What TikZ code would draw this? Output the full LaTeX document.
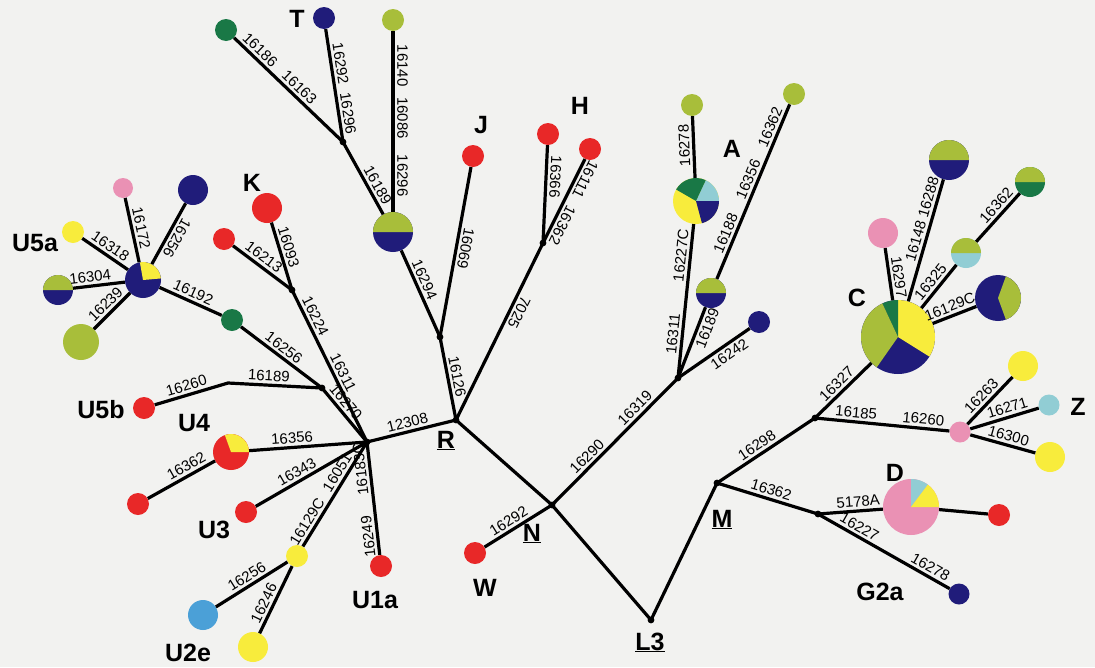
\documentclass[tikz,border=0pt]{standalone}
\usepackage{fontspec}
\setmainfont{Liberation Sans}
\definecolor{cRed}{RGB}{232,40,40}
\definecolor{cNavy}{RGB}{32,28,122}
\definecolor{cYG}{RGB}{168,190,58}
\definecolor{cDG}{RGB}{25,120,70}
\definecolor{cYel}{RGB}{248,236,60}
\definecolor{cPink}{RGB}{234,145,180}
\definecolor{cLB}{RGB}{145,205,212}
\definecolor{cBlue}{RGB}{75,160,215}
\definecolor{bg}{RGB}{242,242,240}
\newcommand{\labfont}{\fontsize{15}{15}\selectfont}
\newcommand{\grpfont}{\fontsize{25}{25}\selectfont\bfseries}
\newcommand{\pieW}[5]{\fill[#5] (#1.center) -- ++({-(#3)}:#2) arc[start angle={-(#3)}, end angle={-(#4)}, radius=#2] -- cycle;}
\tikzset{
  hap/.style={circle, inner sep=0pt, minimum size=#1},
  br/.style={line width=3.2pt, black, line join=round},
  lab/.style={font=\labfont, sloped, allow upside down, inner sep=2.5pt, above},
  labb/.style={font=\labfont, sloped, allow upside down, inner sep=2.5pt, below},
  grp/.style={font=\grpfont, inner sep=0pt, anchor=base},
}
\begin{document}
\begin{tikzpicture}[x=1pt,y=-1pt]
\fill[bg] (0,0) rectangle (1095,667);
\useasboundingbox (0,0) rectangle (1095,667);

% junction coordinates
\coordinate (uh) at (367,442);
\coordinate (kj) at (292,290);
\coordinate (u5j) at (322,388);
\coordinate (b5) at (228,383);
\coordinate (tj) at (343,142);
\coordinate (jj) at (440,337);
\coordinate (hj) at (543,243);
\coordinate (R) at (456,420);
\coordinate (N) at (552,505);
\coordinate (L3) at (651,620);
\coordinate (M) at (717,483);
\coordinate (aj) at (678,378);
\coordinate (cj) at (815,418);
\coordinate (dj) at (818,514);

% U5a cluster
\node[hap=20pt, fill=cPink] (u5pk) at (123,188) {};
\node[hap=30pt, fill=cNavy] (u5nv) at (193,190) {};
\node[hap=22pt, fill=cYel] (u5ye) at (73,232) {};
\node[hap=30pt, fill=cNavy] (u5hf) at (58,290) {};
\node[hap=36pt, fill=cYG] (u5yg) at (81,342) {};
\node[hap=36pt, fill=cNavy] (u5a) at (143,280) {};
\node[hap=22pt, fill=cDG] (u5dg) at (232,320) {};
\node[hap=22pt, fill=cRed] (u5b) at (144,408) {};
% K
\node[hap=30pt, fill=cRed] (k1) at (267,208) {};
\node[hap=22pt, fill=cRed] (k2) at (224,239) {};
% U
\node[hap=36pt, fill=cRed] (u4) at (231,452) {};
\node[hap=22pt, fill=cRed] (u4r) at (138,504) {};
\node[hap=22pt, fill=cRed] (u3) at (246,512) {};
\node[hap=22pt, fill=cYel] (u2) at (297,556) {};
\node[hap=30pt, fill=cBlue] (u2e) at (203,615) {};
\node[hap=30pt, fill=cYel] (u2y) at (253,647) {};
\node[hap=22pt, fill=cRed] (u1) at (381,566) {};
% T, J, H
\node[hap=22pt, fill=cDG] (t1) at (226,30) {};
\node[hap=22pt, fill=cNavy] (t2) at (324,18) {};
\node[hap=22pt, fill=cYG] (t3) at (393,20) {};
\node[hap=40pt, fill=cNavy] (tb) at (393,232) {};
\node[hap=22pt, fill=cRed] (jr) at (473,156) {};
\node[hap=22pt, fill=cRed] (h1) at (548,134) {};
\node[hap=22pt, fill=cRed] (h2) at (590,149) {};
\node[hap=22pt, fill=cRed] (w) at (475,553) {};
% A
\node[hap=46pt, fill=cYel] (a) at (696,201) {};
\node[hap=22pt, fill=cYG] (at) at (692,105) {};
\node[hap=30pt, fill=cNavy] (ah) at (711,293) {};
\node[hap=22pt, fill=cYG] (ay) at (794,94) {};
\node[hap=22pt, fill=cNavy] (an) at (759,322) {};
% C
\node[hap=74pt, fill=cNavy] (c) at (898,337) {};
\node[hap=30pt, fill=cPink] (cp) at (883,233) {};
\node[hap=40pt, fill=cNavy] (ch) at (949,160) {};
\node[hap=30pt, fill=cLB] (cs) at (966,253) {};
\node[hap=30pt, fill=cDG] (cg) at (1030,182) {};
\node[hap=46pt, fill=cNavy] (cn) at (998,298) {};
% Z
\node[hap=21pt, fill=cPink] (zp) at (960,432) {};
\node[hap=30pt, fill=cYel] (zy1) at (1023,366) {};
\node[hap=21pt, fill=cLB] (zl) at (1049,405) {};
\node[hap=30pt, fill=cYel] (zy2) at (1050,457) {};
% D
\node[hap=56pt, fill=cPink] (d) at (911,507) {};
\node[hap=22pt, fill=cRed] (dr) at (999,515) {};
\node[hap=21pt, fill=cNavy] (g2) at (959,594) {};

% pie wedges
\pieW{u5a}{18}{5}{100}{cYel}
\pieW{u5hf}{15}{0}{180}{cYG}
\pieW{u4}{18}{0}{110}{cYel}
\pieW{tb}{20}{0}{180}{cYG}
\pieW{a}{23}{0}{65}{cLB}
\pieW{a}{23}{65}{150}{cDG}
\pieW{a}{23}{285}{360}{cNavy}
\pieW{ah}{15}{0}{180}{cYG}
\pieW{c}{37}{-32}{90}{cYel}
\pieW{c}{37}{90}{115}{cDG}
\pieW{c}{37}{115}{235}{cYG}
\pieW{ch}{20}{0}{180}{cYG}
\pieW{cs}{15}{0}{180}{cYG}
\pieW{cg}{15}{0}{180}{cYG}
\pieW{cn}{23}{-70}{70}{cYG}
\pieW{d}{28}{53}{90}{cLB}
\pieW{d}{28}{0}{53}{cYel}

% U5a edges
\draw[br] (u5pk) -- node[lab]{16172} (u5a);
\draw[br] (u5nv) -- node[lab]{16256} (u5a);
\draw[br] (u5ye) -- node[lab]{16318} (u5a);
\draw[br] (u5hf) -- node[lab,pos=.35]{16304} (u5a);
\draw[br] (u5yg) -- node[lab]{16239} (u5a);
\draw[br] (u5a) -- node[lab,pos=.48]{16192} (u5dg);
\draw[br] (u5dg) -- node[lab,pos=.46]{16256} (u5j);
\draw[br] (u5b) -- node[lab,pos=.47]{16260} (b5) -- node[lab,pos=.43]{16189} (u5j);
\draw[br] (u5j) -- node[lab,pos=.37]{16270} (uh);
% K
\draw[br] (k1) -- node[lab,pos=.4]{16093} (kj);
\draw[br] (k2) -- node[lab,pos=.43]{16213} (kj);
\draw[br] (kj) -- node[lab,pos=.2]{16224} node[lab,pos=.57]{16311} (uh);
% U
\draw[br] (u4) -- node[lab,pos=.37]{16356} (uh);
\draw[br] (u4r) -- node[lab,pos=.64]{16362} (u4);
\draw[br] (u3) -- node[lab,pos=.41]{16343} (uh);
\draw[br] (u2) -- node[lab,pos=.19]{16129C} node[lab,pos=.66]{16051} (uh);
\draw[br] (u1) -- node[lab,pos=.17]{16249} node[lab,pos=.77]{16183C} (uh);
\draw[br] (u2e) -- node[lab]{16256} (u2);
\draw[br] (u2y) -- node[lab,pos=.39]{16246} (u2);
\draw[br] (uh) -- node[lab,pos=.48]{12308} (R);
% T, J, H
\draw[br] (t1) -- node[lab,pos=.18]{16186} node[lab,pos=.54]{16163} (tj);
\draw[br] (t2) -- node[lab,pos=.32]{16292} node[lab,pos=.76]{16296} (tj);
\draw[br] (tj) -- node[lab,pos=.66]{16189} (tb);
\draw[br] (t3) -- node[lab,pos=.19]{16140} node[lab,pos=.48]{16086} node[lab,pos=.8]{16296} (tb);
\draw[br] (tb) -- node[lab,pos=.38]{16294} (jj);
\draw[br] (jr) -- node[lab,pos=.47]{16069} (jj);
\draw[br] (jj) -- node[lab,pos=.5]{16126} (R);
\draw[br] (h1) -- node[lab,pos=.32]{16366} (hj);
\draw[br] (h2) -- node[lab,pos=.19]{16111} node[lab,pos=.74]{16362} (hj);
\draw[br] (hj) -- node[lab,pos=.37]{7025} (R);
% N, L3, M
\draw[br] (R) -- (N);
\draw[br] (N) -- (L3);
\draw[br] (L3) -- (M);
\draw[br] (w) -- node[lab,pos=.43]{16292} (N);
\draw[br] (N) -- node[lab,pos=.33]{16290} node[lab,pos=.71]{16319} (aj);
% A
\draw[br] (aj) -- node[lab,pos=.28]{16311} node[lab,pos=.79]{16227C} (a);
\draw[br] (a) -- node[lab,pos=.53]{16278} (at);
\draw[br] (aj) -- node[labb,pos=.75]{16189} (ah);
\draw[br] (aj) -- node[labb,pos=.64]{16242} (an);
\draw[br] (ah) -- node[lab,pos=.24]{16188} node[lab,pos=.55]{16356} node[lab,pos=.85]{16362} (ay);
% C
\draw[br] (M) -- node[lab,pos=.46]{16298} (cj);
\draw[br] (cj) -- node[lab,pos=.5]{16327} (c);
\draw[br] (cp) -- node[lab,pos=.58]{16297} (c);
\draw[br] (c) -- node[lab,pos=.65]{16148 16288} (ch);
\draw[br] (c) -- node[lab,pos=.47]{16325} (cs);
\draw[br] (cs) -- node[lab,pos=.62]{16362} (cg);
\draw[br] (c) -- node[lab,pos=.47]{16129C} (cn);
% Z
\draw[br] (cj) -- node[lab,pos=.3]{16185} node[lab,pos=.8]{16260} (zp);
\draw[br] (zp) -- node[lab,pos=.46]{16263} (zy1);
\draw[br] (zp) -- node[lab,pos=.58]{16271} (zl);
\draw[br] (zp) -- node[lab,pos=.55]{16300} (zy2);
% D
\draw[br] (M) -- node[lab,pos=.51]{16362} (dj);
\draw[br] (dj) -- node[lab,pos=.63]{5178A} (d);
\draw[br] (d) -- (dr);
\draw[br] (dj) -- node[lab,pos=.28]{16227} node[lab,pos=.82]{16278} (g2);

% junction dots
\foreach \j in {uh,kj,u5j,tj,jj,hj,R,N,L3,M,aj,cj,dj} \fill (\j) circle[radius=3.4];

% group labels
\node[grp] (lT) at (297,27) {T};
\node[grp] (lK) at (252,191) {K};
\node[grp] (lJ) at (481,133) {J};
\node[grp] (lH) at (580,114) {H};
\node[grp] (lA) at (732,157) {A};
\node[grp] (lC) at (857,306) {C};
\node[grp] (lZ) at (1078,415) {Z};
\node[grp] (lD) at (895,481) {D};
\node[grp] (lG) at (880,600) {G2a};
\node[grp] (lM) at (722,527) {\underline{M}};
\node[grp] (lL) at (650,650) {\underline{L3}};
\node[grp] (lN) at (532,541) {\underline{N}};
\node[grp] (lW) at (485,596) {W};
\node[grp] (lR) at (446,448) {\underline{R}};
\node[grp] (lU1) at (375,608) {U1a};
\node[grp] (lU2) at (188,661) {U2e};
\node[grp] (lU3) at (214,538) {U3};
\node[grp] (lU4) at (194,431) {U4};
\node[grp] (lU5b) at (101,418) {U5b};
\node[grp] (lU5a) at (35,251) {U5a};
\end{tikzpicture}
\end{document}
